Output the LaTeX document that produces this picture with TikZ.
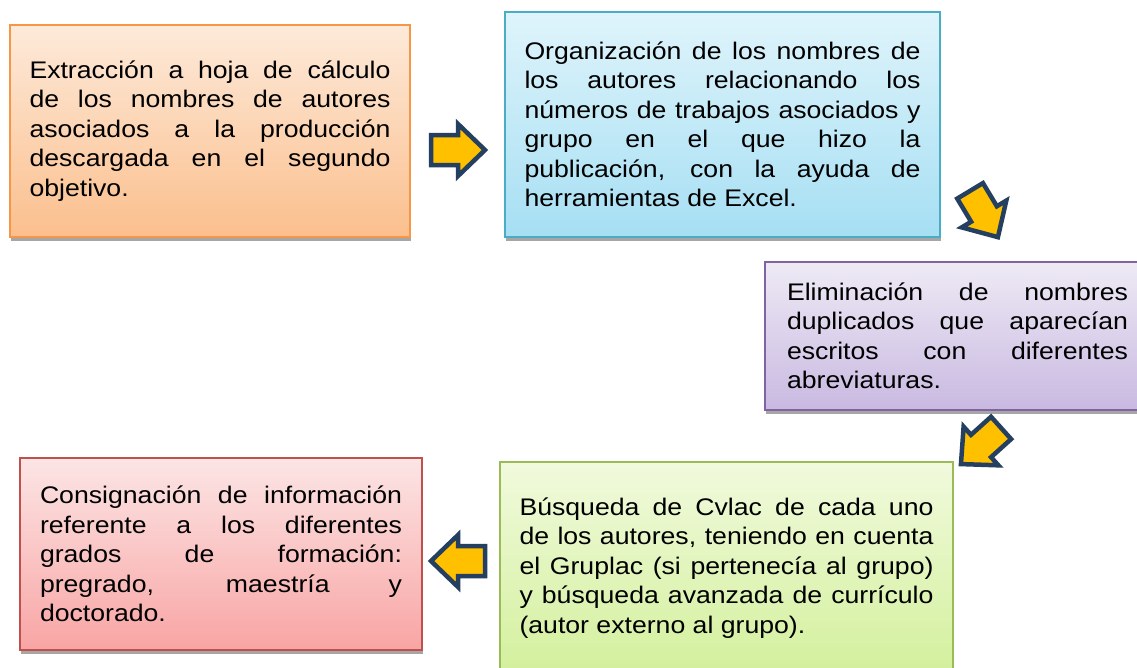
\documentclass[tikz,border=0pt]{standalone}
\usepackage{fontspec}
\setmainfont{Liberation Sans}[FakeStretch=1.11]
\usepackage{tikz}
\usetikzlibrary{shadows}
\usepackage{xcolor}

\definecolor{naranjaBorde}{HTML}{F79646}
\definecolor{naranjaArriba}{HTML}{FDEADA}
\definecolor{naranjaAbajo}{HTML}{FBBF8D}
\definecolor{cianBorde}{HTML}{4BACC6}
\definecolor{cianArriba}{HTML}{DFF4FB}
\definecolor{cianAbajo}{HTML}{A6DFF3}
\definecolor{moradoBorde}{HTML}{8064A2}
\definecolor{moradoArriba}{HTML}{EEEAF5}
\definecolor{moradoAbajo}{HTML}{C9B9E1}
\definecolor{verdeBorde}{HTML}{9BBB59}
\definecolor{verdeArriba}{HTML}{F1FADD}
\definecolor{verdeAbajo}{HTML}{D3F09C}
\definecolor{rojoBorde}{HTML}{C0504D}
\definecolor{rojoArriba}{HTML}{FCE5E5}
\definecolor{rojoAbajo}{HTML}{F8A5A4}
\definecolor{flechaRelleno}{HTML}{FFC000}
\definecolor{flechaBorde}{HTML}{243F60}

\hyphenpenalty=10000
\exhyphenpenalty=10000

\tikzset{
  pics/flecha/.style={code={
    \draw[line width=4.5pt, line join=miter, draw=flechaBorde, fill=flechaRelleno]
      (-27,-15) -- (0,-15) -- (0,-26) -- (27,0) -- (0,26) -- (0,15) -- (-27,15) -- cycle;
  }}
}

\begin{document}
\begin{tikzpicture}[
  x=1pt, y=-1pt,
  caja/.style={rectangle, line width=2pt, align=justify, inner sep=0pt,
    font=\fontsize{24}{29.5}\selectfont,
    drop shadow={shadow xshift=1pt, shadow yshift=-4pt, fill=black!35, opacity=1}}
]
\useasboundingbox (0,0) rectangle (1137,667);
\fill[white] (0,0) rectangle (1137,667);
\clip (0,0) rectangle (1137,667);

% --- Cajas ---
\node[caja, draw=naranjaBorde, top color=naranjaArriba, bottom color=naranjaAbajo,
  minimum width=400pt, minimum height=212pt, text width=361pt] (extraccion) at (210,131)
  {Extracción a hoja de cálculo\linebreak de los nombres de autores\linebreak asociados a la producción\linebreak descargada en el segundo\linebreak objetivo.};
\node[caja, draw=cianBorde, top color=cianArriba, bottom color=cianAbajo,
  minimum width=435pt, minimum height=225pt, text width=396pt] (organizacion) at (722.5,124.5)
  {Organización de los nombres de\linebreak los autores relacionando los\linebreak números de trabajos asociados y\linebreak grupo en el que hizo la\linebreak publicación, con la ayuda de\linebreak herramientas de Excel.};
\node[caja, draw=moradoBorde, top color=moradoArriba, bottom color=moradoAbajo,
  minimum width=385pt, minimum height=148pt, text width=341pt] (eliminacion) at (957.5,336)
  {Eliminación de nombres\linebreak duplicados que aparecían\linebreak escritos con diferentes\linebreak abreviaturas.};
\node[caja, draw=verdeBorde, top color=verdeArriba, bottom color=verdeAbajo,
  minimum width=453pt, minimum height=212pt, text width=414pt] (busqueda) at (726.5,568)
  {Búsqueda de Cvlac de cada uno\linebreak de los autores, teniendo en cuenta\linebreak el Gruplac (si pertenecía al grupo)\linebreak y búsqueda avanzada de currículo\linebreak (autor externo al grupo).};
\node[caja, draw=rojoBorde, top color=rojoArriba, bottom color=rojoAbajo,
  minimum width=402pt, minimum height=192pt, text width=362pt] (consignacion) at (221,554)
  {Consignación de información\linebreak referente a los diferentes\linebreak grados de formación:\linebreak pregrado, maestría y\linebreak doctorado.};

% --- Flechas ---
\pic (f1) at (458,150) {flecha};
\pic[rotate=-59] (f2) at (984,214) {flecha};
\pic[rotate=222] (f3) at (981,446) {flecha};
\pic[rotate=180] (f4) at (458,561) {flecha};

\end{tikzpicture}
\end{document}
